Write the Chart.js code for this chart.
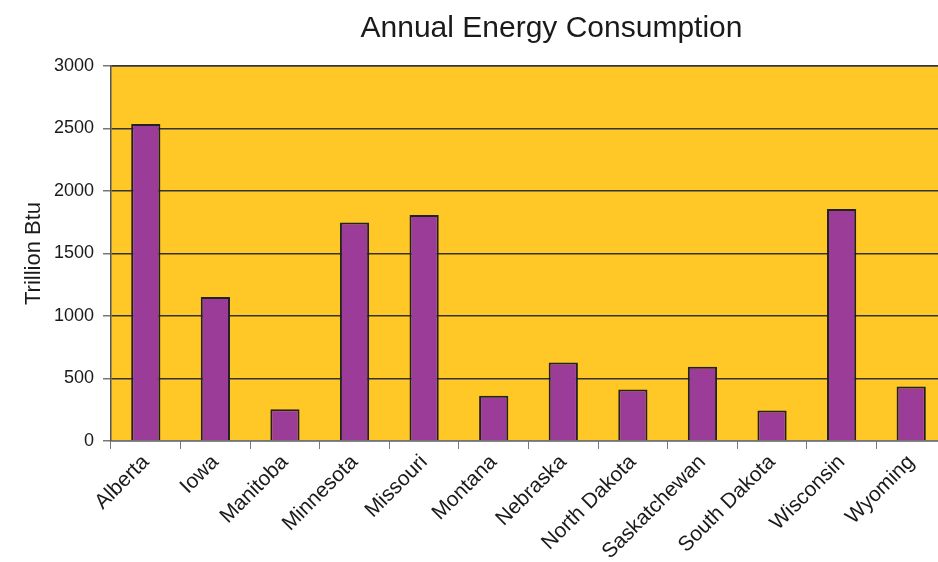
<!DOCTYPE html>
<html>
<head>
<meta charset="utf-8">
<script src="https://cdn.jsdelivr.net/npm/chart.js@4/dist/chart.umd.min.js"></script>
<style>
  html, body { margin: 0; padding: 0; background: #ffffff; overflow: hidden; width: 938px; height: 562px; }
  canvas { display: block; }
</style>
</head>
<body>
<canvas id="c" width="948" height="562" style="width:948px;height:562px"></canvas>
<script>
const chartTitle = 'Annual Energy Consumption';
const yAxisTitle = 'Trillion Btu';
const categories = ['Alberta', 'Iowa', 'Manitoba', 'Minnesota', 'Missouri', 'Montana', 'Nebraska', 'North Dakota', 'Saskatchewan', 'South Dakota', 'Wisconsin', 'Wyoming'];
const consumption = [2536, 1152, 254, 1748, 1808, 363, 628, 412, 594, 244, 1857, 436];
const yMin = 0, yMax = 3000, yStep = 500;

const FONT = '"Liberation Sans", Arial, Helvetica, sans-serif';

const plotBg = {
  id: 'plotBg',
  beforeDraw(chart) {
    const { ctx, chartArea: a } = chart;
    ctx.save();
    ctx.fillStyle = 'rgb(255,200,38)';
    ctx.fillRect(a.left, a.top, a.right - a.left, a.bottom - a.top);
    ctx.strokeStyle = '#8a8a8a';
    ctx.lineWidth = 2;
    ctx.beginPath();
    ctx.moveTo(a.left, a.top);
    ctx.lineTo(a.right, a.top);
    ctx.stroke();
    ctx.restore();
  },
  afterDraw(chart) {
    const { ctx, chartArea: a } = chart;
    ctx.save();
    ctx.fillStyle = '#1a1a1a';
    ctx.font = '30px ' + FONT;
    ctx.textAlign = 'center';
    ctx.textBaseline = 'middle';
    ctx.fillText(chartTitle, a.left + (a.right - a.left) / 2 + 23, 29);
    ctx.restore();
  }
};

new Chart(document.getElementById('c'), {
  type: 'bar',
  data: {
    labels: categories,
    datasets: [{
      data: consumption,
      backgroundColor: 'rgb(155,60,152)',
      borderColor: '#222222',
      borderWidth: 2,
      barPercentage: 0.42,
      categoryPercentage: 1.0
    }]
  },
  options: {
    responsive: false,
    animation: false,
    devicePixelRatio: 1,
    layout: { padding: { top: 66, right: 2, left: 0, bottom: 0 } },
    plugins: { legend: { display: false }, title: { display: false }, tooltip: { enabled: false } },
    scales: {
      x: {
        offset: true,
        grid: { display: true, drawOnChartArea: false, drawTicks: true, tickLength: 8, color: '#777777', offset: true },
        border: { display: true, color: '#777777', width: 1.5 },
        ticks: { color: '#1a1a1a', font: { family: FONT, size: 21 }, minRotation: 45, maxRotation: 45, padding: 1, autoSkip: false },
        afterFit(scale) { scale.height = 121; }
      },
      y: {
        min: yMin, max: yMax,
        ticks: {
          stepSize: yStep, color: '#1a1a1a', font: { family: FONT, size: 18 }, padding: 9,
          callback: (v) => String(v)
        },
        grid: { color: '#333333', lineWidth: 1.5, tickLength: 8, tickColor: '#777777', drawTicks: true },
        border: { display: true, color: '#555555', width: 1.5 },
        title: { display: true, text: yAxisTitle, color: '#1a1a1a', font: { family: FONT, size: 22 }, padding: { top: 21, bottom: 0 } },
        afterFit(scale) { scale.width = 111; }
      }
    }
  },
  plugins: [plotBg]
});
</script>
</body>
</html>
